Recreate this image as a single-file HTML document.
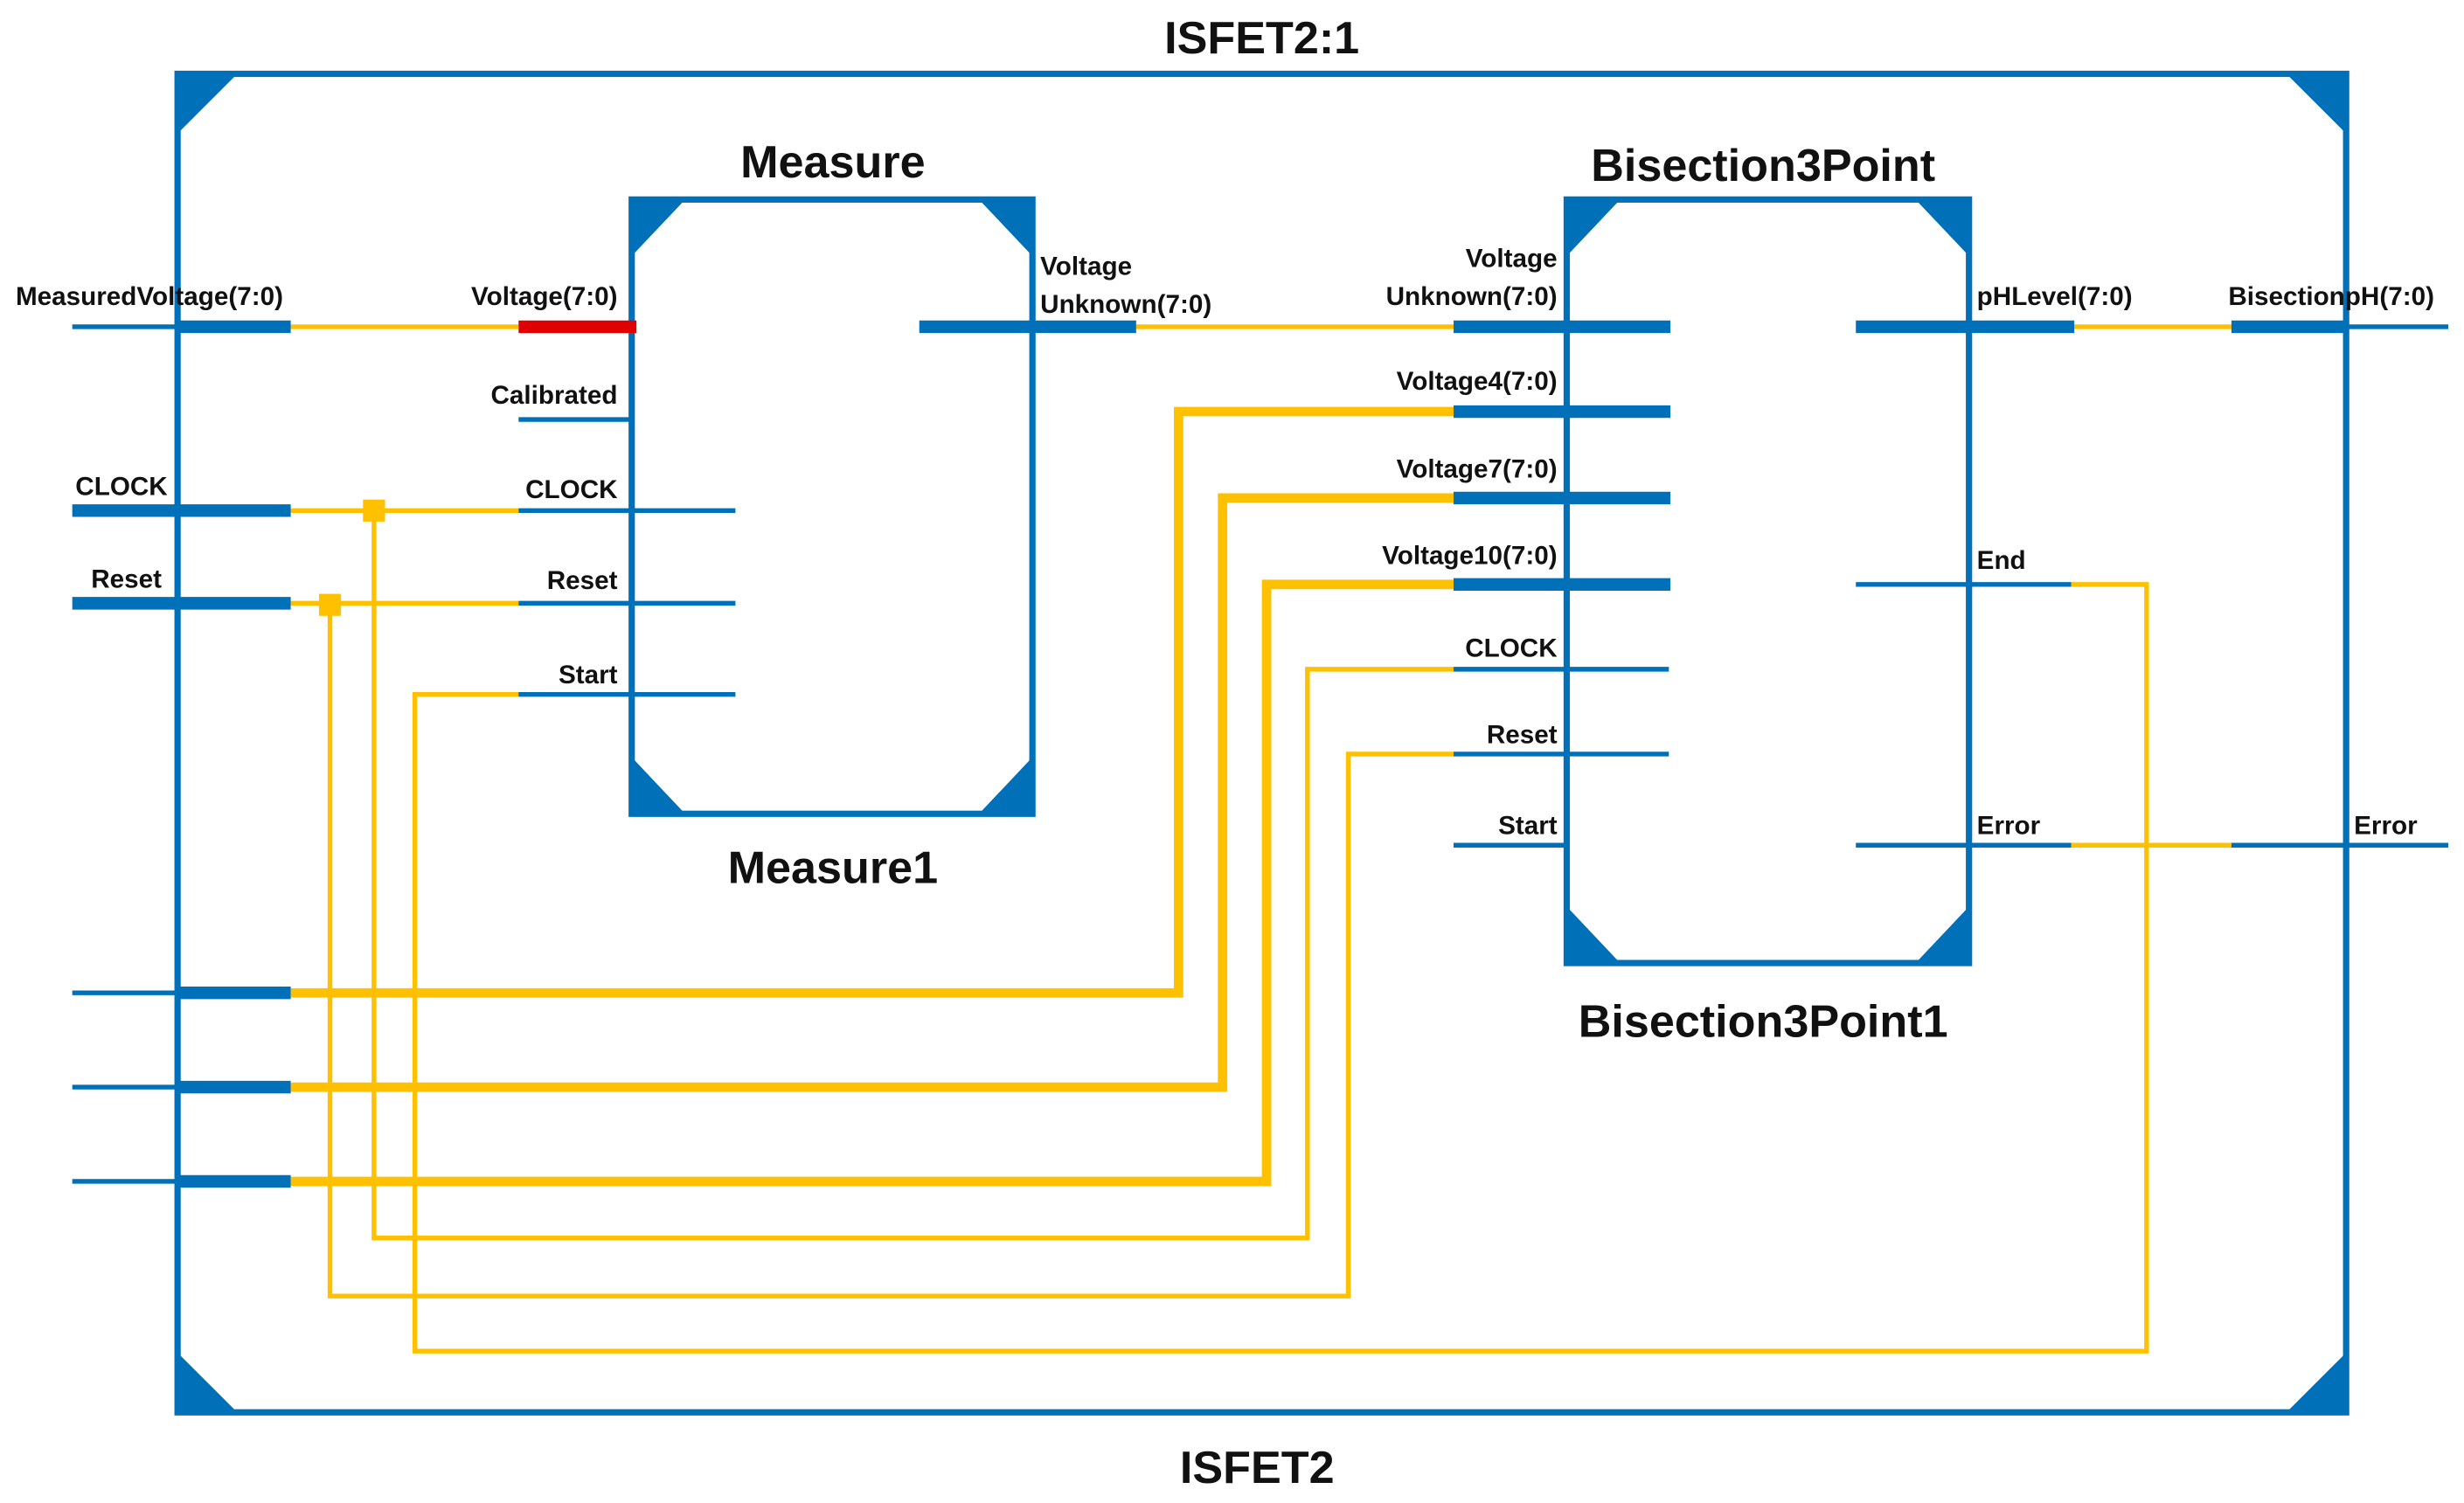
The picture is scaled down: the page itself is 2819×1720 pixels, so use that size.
<!DOCTYPE html>
<html><head><meta charset="utf-8"><style>html,body{margin:0;padding:0;background:#fff}svg{display:block}</style></head><body>
<svg width="2819" height="1720" viewBox="0 0 1568 956.7" preserveAspectRatio="none" xmlns="http://www.w3.org/2000/svg" font-family="Liberation Sans, sans-serif">
<rect width="1568" height="957" fill="#fff"/>
<g fill="none" stroke="#ffc000" stroke-linejoin="miter">
<g stroke-width="3">
<path d="M185 208H330M723 208H925M1320 208H1420M1318 538H1420"/>
<path d="M185 325H330M185 384H330"/>
<path d="M330 442H264V860H1366V372H1318"/>
<path d="M238 325V788H832V426H925"/>
<path d="M210 385V825H858V480H925"/>
</g>
<g stroke-width="6">
<path d="M185 632H750V262H925"/>
<path d="M185 692H778V317H925"/>
<path d="M185 752H806V372H925"/>
</g>
</g>
<rect x="231" y="318" width="14" height="14" fill="#ffc000"/>
<rect x="203" y="378" width="14" height="14" fill="#ffc000"/>
<g stroke="#0070b8" fill="none">
<rect x="113" y="47" width="1380" height="852" stroke-width="4"/>
<rect x="402" y="127" width="255" height="391" stroke-width="4"/>
<rect x="997" y="127" width="256" height="486" stroke-width="4"/>
<g stroke-width="3">
<path d="M46 208H113M330 267H402M330 325H468M330 384H468M330 442H468M46 632H113M46 692H113M46 752H113"/>
<path d="M925 426H1062M925 480H1062M925 538H997M1181 372H1318M1181 538H1318M1420 538H1558M1493 208H1558"/>
</g>
<g stroke-width="8">
<path d="M113 208H185M46 325H185M46 384H185M113 632H185M113 692H185M113 752H185"/>
<path d="M585 208H723M925 208H1063M925 262H1063M925 317H1063M925 372H1063M1181 208H1320M1420 208H1493"/>
</g>
</g>
<path d="M330 208H405" stroke="#e00000" stroke-width="8"/>
<g fill="#0070b8">
<path d="M113 47h38l-38 38zM1493 47h-38l38 38zM113 899h38l-38-38zM1493 899h-38l38-38z"/>
<path d="M402 127h34l-34 36zM657 127h-34l34 36zM402 518h34l-34-36zM657 518h-34l34-36z"/>
<path d="M997 127h34l-34 36zM1253 127h-34l34 36zM997 613h34l-34-36zM1253 613h-34l34-36z"/>
</g>
<g font-weight="bold" fill="#111" text-anchor="middle">
<text x="803" y="34" font-size="29">ISFET2:1</text>
<text x="800" y="944" font-size="29">ISFET2</text>
<text x="530" y="113" font-size="29">Measure</text>
<text x="530" y="562" font-size="29">Measure1</text>
<text x="1122" y="115" font-size="29">Bisection3Point</text>
<text x="1122" y="660" font-size="29">Bisection3Point1</text>
</g>
<g font-size="16.5" font-weight="bold" fill="#111">
<text x="10" y="194">MeasuredVoltage(7:0)</text>
<text x="48" y="315">CLOCK</text>
<text x="58" y="374">Reset</text>
<text x="662" y="175">Voltage</text>
<text x="662" y="199">Unknown(7:0)</text>
<text x="1258" y="194">pHLevel(7:0)</text>
<text x="1418" y="194">BisectionpH(7:0)</text>
<text x="1258" y="362">End</text>
<text x="1258" y="531">Error</text>
<text x="1498" y="531">Error</text>
<g text-anchor="end">
<text x="393" y="194">Voltage(7:0)</text>
<text x="393" y="257">Calibrated</text>
<text x="393" y="317">CLOCK</text>
<text x="393" y="375">Reset</text>
<text x="393" y="435">Start</text>
<text x="991" y="170">Voltage</text>
<text x="991" y="194">Unknown(7:0)</text>
<text x="991" y="248">Voltage4(7:0)</text>
<text x="991" y="304">Voltage7(7:0)</text>
<text x="991" y="359">Voltage10(7:0)</text>
<text x="991" y="418">CLOCK</text>
<text x="991" y="473">Reset</text>
<text x="991" y="531">Start</text>
</g>
</g>
</svg>
</body></html>
